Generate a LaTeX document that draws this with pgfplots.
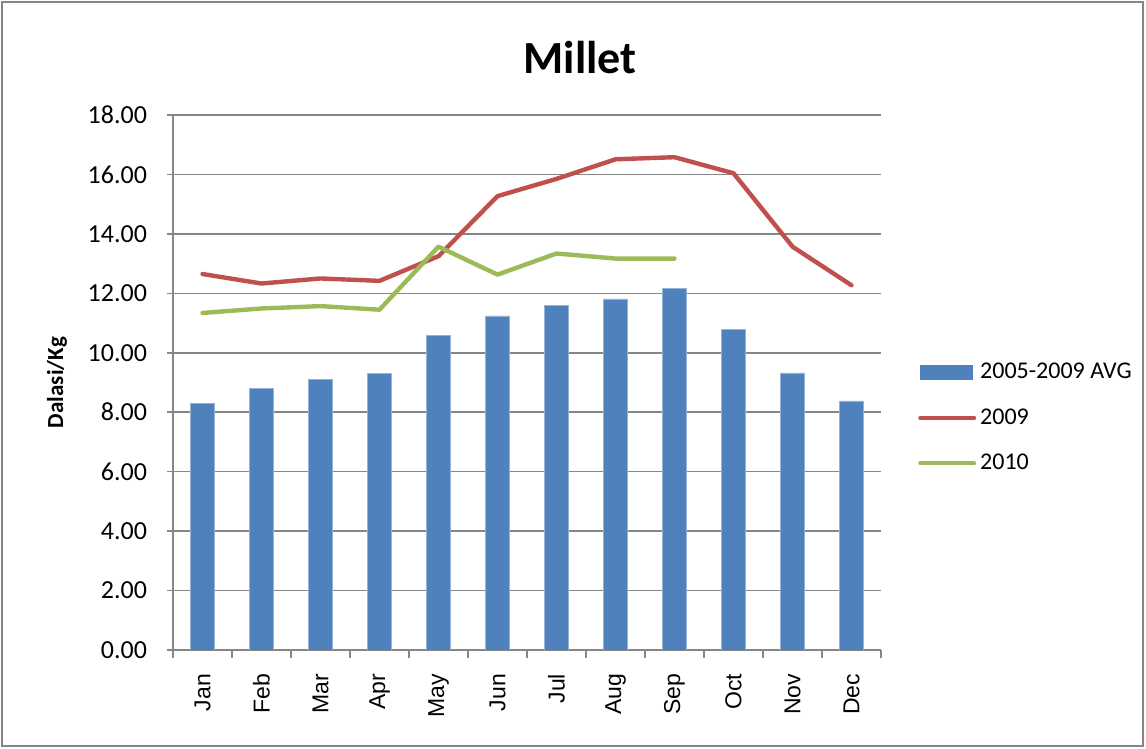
\documentclass[border=0pt]{standalone}
\usepackage{pgfplots}
\pgfplotsset{compat=1.18}
\usepackage{fontspec}
\setmainfont{Carlito}
\newfontfamily\arialfont{Liberation Sans}
\definecolor{cblue}{HTML}{4F81BD}
\definecolor{cred}{HTML}{C0504D}
\definecolor{cgreen}{HTML}{9BBB59}
\definecolor{cgrid}{HTML}{868686}
\begin{document}
\begin{tikzpicture}
\begin{axis}[
  at={(86.5pt,49.5pt)}, anchor=south west,
  scale only axis, width=354pt, height=267.5pt,
  xmin=0.5, xmax=12.5, ymin=0, ymax=18,
  xtick={1,...,12},
  xticklabels={Jan,Feb,Mar,Apr,May,Jun,Jul,Aug,Sep,Oct,Nov,Dec},
  minor xtick={0.5,1.5,...,12.5},
  major x tick style={draw=none},
  xtick pos=bottom, ytick pos=left,
  xtick align=outside,
  ytick align=center,
  minor tick length=4pt,
  major tick length=6pt,
  ytick={0,2,...,18},
  ymajorgrids,
  grid style={cgrid, line width=0.8pt},
  axis line style={cgrid, line width=0.8pt},
  tick style={cgrid, line width=0.8pt},
  axis x line*=bottom, axis y line*=left,
  every outer x axis line/.append style={-},
  every outer y axis line/.append style={-},
  /pgf/number format/assume math mode=true,
  yticklabel style={/pgf/number format/.cd, fixed, fixed zerofill, precision=2, /tikz/.cd, font=\fontsize{13}{15}\selectfont, xshift=-6.5pt},
  xticklabel style={rotate=90, anchor=east, font=\arialfont\fontsize{11.5}{13}\selectfont, xshift=-2.5pt},
  ylabel={Dalasi/Kg},
  ylabel style={at={(axis description cs:-0.164,0.5)}, anchor=center, font=\bfseries\fontsize{11.5}{13}\selectfont},
  title={Millet},
  title style={at={(axis description cs:0.575,1.085)}, anchor=center, font=\bfseries\fontsize{23}{27}\selectfont},
  legend style={at={(axis description cs:1.052,0.434)}, anchor=west, draw=none, fill=none,
    font=\fontsize{12}{14}\selectfont, row sep=9.5pt, inner sep=0pt},
  legend cell align=left,
  /tikz/every even column/.append style={column sep=1pt},
]
\addplot[ybar, bar width=11.7pt, fill=cblue, draw=cblue!60!white, line width=0.4pt,
  legend image code/.code={\fill[cblue] (0pt,-3.5pt) rectangle (26pt,3.5pt);}]
  coordinates {(1,8.30) (2,8.80) (3,9.10) (4,9.30) (5,10.59) (6,11.24) (7,11.60) (8,11.81) (9,12.16) (10,10.77) (11,9.32) (12,8.38)};
\addlegendentry{2005-2009 AVG}
\addplot[cred, line width=2.2pt, line cap=round, line join=round,
  legend image code/.code={\draw[cred, line width=2pt, line cap=round] (0pt,0pt) -- (27pt,0pt);}]
  coordinates {(1,12.65) (2,12.33) (3,12.50) (4,12.42) (5,13.25) (6,15.27) (7,15.85) (8,16.51) (9,16.58) (10,16.04) (11,13.57) (12,12.27)};
\addlegendentry{2009}
\addplot[cgreen, line width=2.2pt, line cap=round, line join=round,
  legend image code/.code={\draw[cgreen, line width=2pt, line cap=round] (0pt,0pt) -- (27pt,0pt);}]
  coordinates {(1,11.34) (2,11.49) (3,11.57) (4,11.45) (5,13.57) (6,12.63) (7,13.34) (8,13.17) (9,13.17)};
\addlegendentry{2010}
\end{axis}
\draw[cgrid, line width=1pt] (1.2pt,1.5pt) rectangle (571.5pt,373.3pt);
\pgfresetboundingbox
\useasboundingbox (0,0) rectangle (573pt,374.5pt);
\end{tikzpicture}
\end{document}
